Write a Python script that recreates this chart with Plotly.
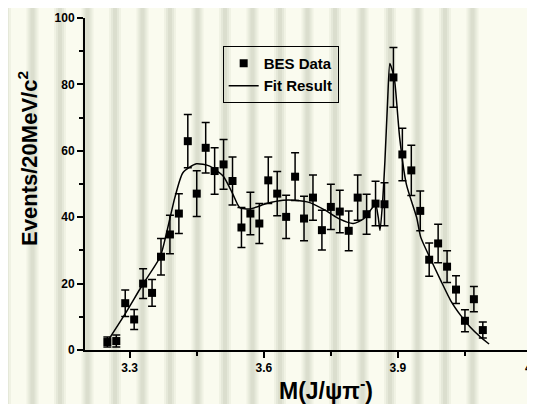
import plotly.graph_objects as go

# BES data points (bin centres, counts, errors)
mass = [3.25, 3.27, 3.29, 3.31, 3.33, 3.35, 3.37, 3.39, 3.41, 3.43, 3.45, 3.47, 3.49, 3.51,
        3.53, 3.55, 3.57, 3.59, 3.61, 3.63, 3.65, 3.67, 3.69, 3.71, 3.73, 3.75, 3.77, 3.79,
        3.81, 3.83, 3.85, 3.87, 3.89, 3.91, 3.93, 3.95, 3.97, 3.99, 4.01, 4.03, 4.05, 4.07, 4.09]
events = [2.4, 2.7, 14.1, 9.2, 20.0, 17.2, 28.1, 34.8, 41.1, 62.9, 47.1, 60.9, 53.9, 55.9,
          50.9, 36.9, 41.1, 38.1, 51.1, 47.1, 40.1, 52.2, 39.6, 45.9, 36.1, 43.1, 41.7, 35.9,
          45.9, 40.9, 44.1, 43.9, 82.1, 58.9, 54.1, 41.9, 27.2, 32.1, 25.1, 18.2, 8.8, 15.3, 6.0]
errors = [1.5, 1.8, 4.0, 3.0, 4.5, 4.0, 5.5, 5.8, 6.0, 8.0, 6.9, 7.6, 7.0, 7.5,
          7.2, 6.0, 6.4, 6.0, 7.0, 6.7, 6.5, 7.2, 6.7, 6.8, 6.0, 6.8, 6.4, 6.0,
          6.8, 6.0, 6.7, 6.5, 9.0, 7.9, 7.6, 6.0, 5.0, 5.8, 4.8, 4.2, 3.3, 3.8, 2.4]

# Fit curve
fit_x = [3.244, 3.288, 3.328, 3.368, 3.382, 3.401, 3.419, 3.449, 3.479, 3.509, 3.531, 3.546,
         3.569, 3.606, 3.643, 3.669, 3.703, 3.740, 3.770, 3.800, 3.822, 3.841, 3.850, 3.856,
         3.860, 3.866, 3.871, 3.877, 3.882, 3.888, 3.893, 3.904, 3.919, 3.942, 3.951, 3.973,
         3.996, 4.018, 4.040, 4.061, 4.084, 4.104]
fit_y = [1.3, 10.5, 19.5, 28.0, 35.0, 45.9, 53.4, 56.1, 55.4, 52.4, 46.9, 42.9,
         42.5, 44.1, 45.1, 45.1, 44.4, 41.9, 39.4, 38.1, 39.4, 42.5, 44.0, 40.0,
         36.0, 45.0, 57.0, 75.0, 86.3, 84.0, 80.8, 63.9, 49.9, 39.9, 34.0, 27.4,
         20.9, 14.9, 10.5, 7.0, 4.0, 1.8]

x_ticks = [3.3, 3.6, 3.9]
x_tick_labels = ["3.3", "3.6", "3.9"]
x_last_tick = 4.2
x_last_label = "4.2"
y_ticks = [0, 20, 40, 60, 80, 100]
y_tick_labels = ["0", "20", "40", "60", "80", "100"]

FONT = "Liberation Sans, Arial, sans-serif"
BG = "#FAFBEF"

fig = go.Figure()
fig.add_trace(go.Scatter(
    x=mass, y=events, mode="markers", name="BES Data",
    marker=dict(symbol="square", size=8, color="black"),
    error_y=dict(type="data", array=errors, color="black", thickness=1.5, width=4),
))
fig.add_trace(go.Scatter(
    x=fit_x, y=fit_y, mode="lines", name="Fit Result",
    line=dict(color="black", width=1.5, shape="spline", smoothing=0.6),
))

# soft decorative background stripes (slide texture), in paper coordinates
PLOT_W = 447.0
period = 27.5
for k in range(-4, 18):
    cx_px = 5 + period * k - 85          # stripe centre relative to plot-area left edge
    for half, col in [(6, "rgba(160,165,140,0.10)"), (4, "rgba(160,165,140,0.12)"), (2, "rgba(160,165,140,0.14)")]:
        fig.add_shape(
            type="rect", xref="paper", yref="paper", layer="below",
            x0=(cx_px - half) / PLOT_W, x1=(cx_px + half) / PLOT_W,
            y0=-0.3, y1=1.1, line_width=0, fillcolor=col,
        )

fig.update_layout(
    width=527, height=396,
    margin=dict(l=77, r=3, t=8, b=54),
    paper_bgcolor=BG, plot_bgcolor="rgba(0,0,0,0)",
    font=dict(family=FONT, color="black", size=12, weight="bold"),
    showlegend=True,
    legend=dict(
        x=0.308, y=0.916, xanchor="left", yanchor="top",
        bgcolor="rgba(0,0,0,0)", bordercolor="black", borderwidth=1,
        font=dict(family=FONT, size=15, color="black", weight="bold"),
        tracegroupgap=0, itemwidth=30,
    ),
    xaxis=dict(
        range=[3.2, 4.2], showgrid=False, zeroline=False,
        showline=True, linecolor="black", linewidth=2,
        tickmode="array", tickvals=x_ticks + [x_last_tick], ticktext=x_tick_labels + [""],
        ticks="outside", ticklen=6, tickwidth=2, tickcolor="black",
        tickfont=dict(family=FONT, size=12, weight="bold"),
        minor=dict(tickvals=[3.45, 3.75, 4.05], ticks="outside", ticklen=4, tickwidth=2, tickcolor="black"),
    ),
    yaxis=dict(
        range=[0, 100], showgrid=False, zeroline=False,
        showline=True, linecolor="black", linewidth=2,
        tickmode="array", tickvals=y_ticks, ticktext=y_tick_labels,
        ticks="outside", ticklen=6, tickwidth=2, tickcolor="black",
        tickfont=dict(family=FONT, size=12, weight="bold"),
        minor=dict(tickvals=[10, 30, 50, 70, 90], ticks="outside", ticklen=4, tickwidth=2, tickcolor="black"),
    ),
    annotations=[
        dict(text="Events/20MeV/c<sup>2</sup>", textangle=-90, xref="paper", yref="paper",
             x=-0.128, y=0.578, xanchor="center", yanchor="middle", showarrow=False,
             font=dict(family=FONT, size=22, color="black", weight="bold")),
        dict(text="M(J/ψπ<sup>-</sup>)", xref="paper", yref="paper",
             x=0.539, y=-0.117, xanchor="center", yanchor="middle", showarrow=False,
             font=dict(family=FONT, size=23, color="black", weight="bold")),
        dict(text=x_last_label, xref="x", yref="paper", x=x_last_tick, y=-0.028,
             xanchor="left", yanchor="top", xshift=-9, showarrow=False,
             font=dict(family=FONT, size=12, color="black", weight="bold")),
    ],
)

fig.write_html("out.html")
